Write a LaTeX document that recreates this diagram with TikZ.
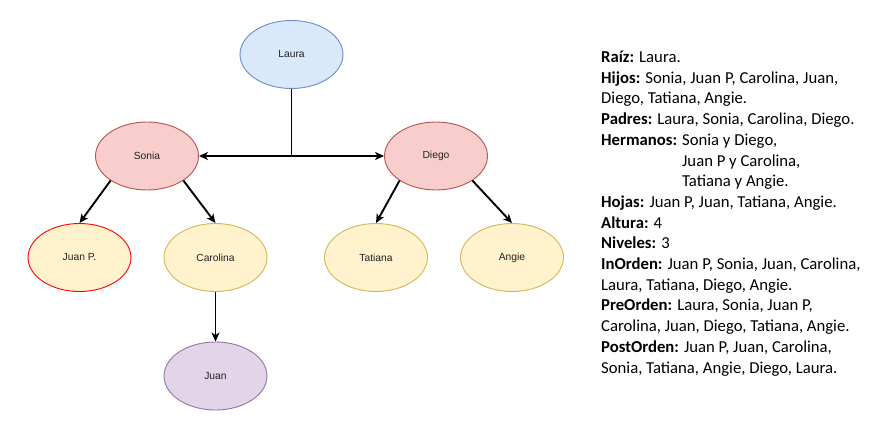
\documentclass[tikz,border=0pt]{standalone}
\usepackage{fontspec}
\setmainfont{Carlito}
\newfontfamily\nodefont{Liberation Sans}
\usetikzlibrary{shapes.geometric,arrows.meta}
\definecolor{blueF}{HTML}{DAE8FC}\definecolor{blueD}{HTML}{6C8EBF}
\definecolor{redF}{HTML}{F8CECC}\definecolor{redD}{HTML}{B85450}
\definecolor{yelF}{HTML}{FFF2CC}\definecolor{yelD}{HTML}{D6B656}
\definecolor{purF}{HTML}{E1D5E7}\definecolor{purD}{HTML}{9673A6}
\definecolor{txt}{HTML}{222222}
\tikzset{
  person/.style={ellipse, minimum width=103pt, minimum height=68pt, inner sep=0pt,
    line width=0.9pt, font=\nodefont\fontsize{10.3}{12}\selectfont, text=txt},
  link/.style={line width=1.9pt, -{Stealth[length=9pt,width=8pt,inset=2.5pt]}},
  plain/.style={line width=1.9pt},
}
\begin{document}
\begin{tikzpicture}[x=1pt,y=-1pt]
\useasboundingbox (0,0) rectangle (880,422);
\node[person, fill=blueF, draw=blueD] (laura) at (291.5,54.5) {Laura};
\node[person, fill=redF, draw=redD] (sonia) at (147,156) {Sonia};
\node[person, fill=redF, draw=redD] (diego) at (436,156) {Diego};
\node[person, fill=yelF, draw=red] (juanp) at (79.5,257.5) {Juan P.};
\node[person, fill=yelF, draw=yelD] (carolina) at (215.5,257.5) {Carolina};
\node[person, fill=yelF, draw=yelD] (tatiana) at (376,257.5) {Tatiana};
\node[person, fill=yelF, draw=yelD] (angie) at (512,257.5) {Angie};
\node[person, fill=purF, draw=purD] (juan) at (215.5,376) {Juan};
\coordinate (j) at (laura.south |- sonia.east);
\draw[plain] (laura.south) -- (j);
\draw[link] (j) -- (sonia.east);
\draw[link] (j) -- (diego.west);
\draw[link] (sonia.214) -- (juanp.north);
\draw[link] (sonia.326) -- (carolina.north);
\draw[link] (diego.214) -- (tatiana.north);
\draw[link] (diego.326) -- (angie.north);
\draw[link] (carolina.south) -- (juan.north);
\node[anchor=base west, align=left, inner sep=0pt, font=\fontsize{16.7}{20.7}\selectfont] (info) at (601,373) {%
\textbf{Raíz:} Laura.\\
\textbf{Hijos:} Sonia, Juan P, Carolina, Juan,\\
Diego, Tatiana, Angie.\\
\textbf{Padres:} Laura, Sonia, Carolina, Diego.\\
\textbf{Hermanos:} Sonia y Diego,\\
\hphantom{\textbf{Hermanos:} }Juan P y Carolina,\\
\hphantom{\textbf{Hermanos:} }Tatiana y Angie.\\
\textbf{Hojas:} Juan P, Juan, Tatiana, Angie.\\
\textbf{Altura:} 4\\
\textbf{Niveles:} 3\\
\textbf{InOrden:} Juan P, Sonia, Juan, Carolina,\\
Laura, Tatiana, Diego, Angie.\\
\textbf{PreOrden:} Laura, Sonia, Juan P,\\
Carolina, Juan, Diego, Tatiana, Angie.\\
\textbf{PostOrden:} Juan P, Juan, Carolina,\\
Sonia, Tatiana, Angie, Diego, Laura.};
\end{tikzpicture}
\end{document}
